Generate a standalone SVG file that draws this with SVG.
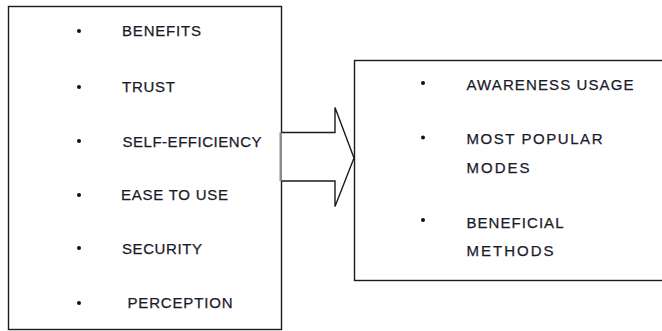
<svg xmlns="http://www.w3.org/2000/svg" width="662" height="331" viewBox="0 0 662 331">
<style>
.box{fill:#fff;stroke:#1a1a1a;stroke-width:1.4}
.t{font-family:"Liberation Sans",Arial,sans-serif;font-size:15px;fill:#1a1a2a;stroke:#1a1a2a;stroke-width:0.25}
.b{fill:#111}
</style>
<rect width="662" height="331" fill="#fff"/>
<g id="left-node">
<rect class="box" x="8.5" y="6.5" width="273" height="323"/>
<circle class="b" cx="79" cy="31" r="2"/><text class="t" x="122" y="36" textLength="79" lengthAdjust="spacing">BENEFITS</text>
<circle class="b" cx="79" cy="87" r="2"/><text class="t" x="122" y="92" textLength="53" lengthAdjust="spacing">TRUST</text>
<circle class="b" cx="79" cy="141" r="2"/><text class="t" x="122.5" y="146.5" textLength="139" lengthAdjust="spacing">SELF-EFFICIENCY</text>
<circle class="b" cx="79" cy="195" r="2"/><text class="t" x="121" y="200" textLength="107" lengthAdjust="spacing">EASE TO USE</text>
<circle class="b" cx="79" cy="248" r="2"/><text class="t" x="122" y="253.5" textLength="80" lengthAdjust="spacing">SECURITY</text>
<circle class="b" cx="79" cy="303" r="2"/><text class="t" x="127.5" y="308" textLength="105" lengthAdjust="spacing">PERCEPTION</text>
</g>
<g id="connectors">
<path d="M281.5 132.5 H335 V107.5 L354 158 L335 206.5 V181 H281.5" fill="#fff" stroke="#1a1a1a" stroke-width="1.4" stroke-linejoin="miter"/>
<line x1="280.5" y1="132.5" x2="280.5" y2="181" stroke="#8a8a8a" stroke-width="2"/>
</g>
<g id="right-node">
<rect class="box" x="354.5" y="60.5" width="320" height="220"/>
<circle class="b" cx="423" cy="83" r="2"/><text class="t" x="466.5" y="89.5" textLength="167" lengthAdjust="spacing">AWARENESS USAGE</text>
<circle class="b" cx="423" cy="137.5" r="2"/><text class="t" x="466.5" y="144" textLength="136" lengthAdjust="spacing">MOST POPULAR</text>
<text class="t" x="466.5" y="172.5" textLength="63" lengthAdjust="spacing">MODES</text>
<circle class="b" cx="423" cy="220" r="2"/><text class="t" x="466.5" y="228" textLength="97" lengthAdjust="spacing">BENEFICIAL</text>
<text class="t" x="466.5" y="256" textLength="87" lengthAdjust="spacing">METHODS</text>
</g>
</svg>
